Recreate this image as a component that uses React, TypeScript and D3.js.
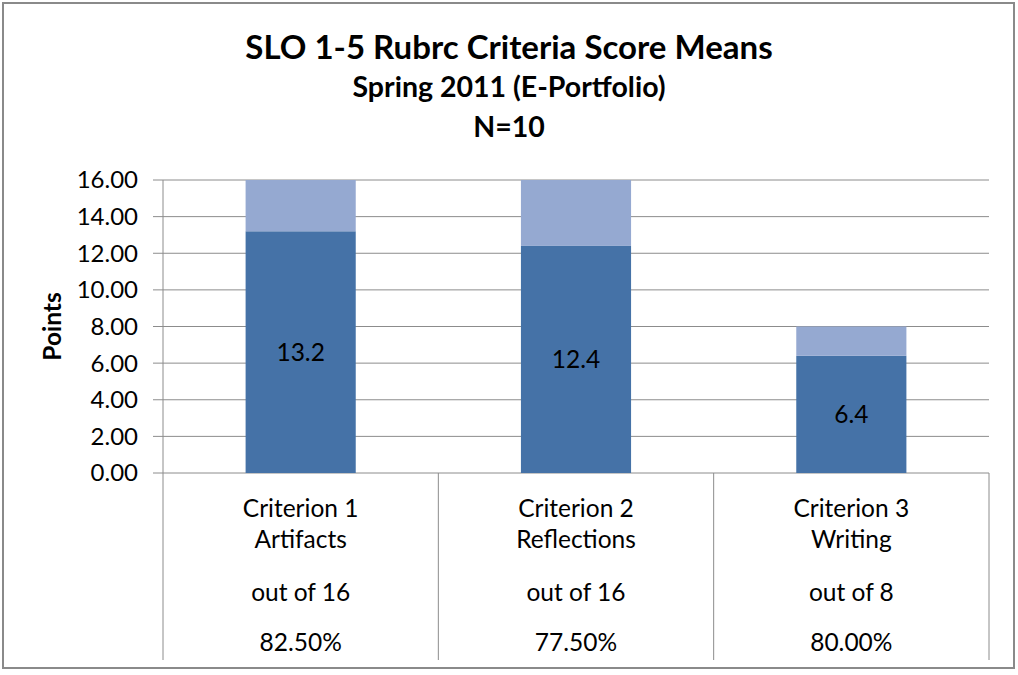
import { useEffect } from 'react'
import * as d3 from 'd3'

const criteria = ['Criterion 1', 'Criterion 2', 'Criterion 3']
const subNames = ['Artifacts', 'Reflections', 'Writing']
const outOf = ['out of 16', 'out of 16', 'out of 8']
const percents = ['82.50%', '77.50%', '80.00%']
const means = [13.2, 12.4, 6.4]
const maxima = [16, 16, 8]
const yTicks = [0, 2, 4, 6, 8, 10, 12, 14, 16]

const W = 1018
const H = 675
const FONT = 'Lato, "Open Sans", sans-serif'

const App = () => {
  useEffect(() => {
    document.body.style.margin = '0'
  }, [])

  const left = 163
  const right = 989
  const top = 180
  const bottom = 473
  const catBottom = 660

  const x = d3.scaleBand<string>().domain(criteria).range([left, right]).paddingInner(0).paddingOuter(0)
  const y = d3.scaleLinear().domain([0, 16]).range([bottom, top])
  const barW = x.bandwidth() * 0.4

  const stack = d3.stack<number>()
    .keys(['mean', 'rest'])
    .value((i, key) => (key === 'mean' ? means[i] : maxima[i] - means[i]))
  const series = stack(d3.range(criteria.length))
  const colors = ['#4572A7', '#95A9D1']
  const grid = '#8c8c8c'

  return (
    <svg width={W} height={H} style={{ display: 'block', background: '#fff' }} fontFamily={FONT}>
      <rect x={3} y={3} width={1011} height={665} fill="#fff" stroke="#8a8a8a" strokeWidth={2} />

      <text x={509} y={59} textAnchor="middle" fontSize={33} fontWeight="bold">SLO 1-5 Rubrc Criteria Score Means</text>
      <text x={509} y={97} textAnchor="middle" fontSize={28.5} fontWeight="bold">Spring 2011 (E-Portfolio)</text>
      <text x={509} y={137} textAnchor="middle" fontSize={28.5} fontWeight="bold">N=10</text>

      {yTicks.map((t) => (
        <g key={t}>
          <line x1={left - 10} x2={right} y1={y(t)} y2={y(t)} stroke={grid} strokeWidth={1} />
          <text x={138} y={y(t)} dy="0.35em" textAnchor="end" fontSize={24}>{t.toFixed(2)}</text>
        </g>
      ))}

      <text transform={`translate(61,${(top + bottom) / 2}) rotate(-90)`} textAnchor="middle" fontSize={24.5} fontWeight="bold">Points</text>

      {series.map((s, si) => (
        <g key={s.key}>
          {s.map((d, i) => (
            <rect
              key={i}
              x={(x(criteria[i]) ?? 0) + (x.bandwidth() - barW) / 2}
              y={y(d[1])}
              width={barW}
              height={y(d[0]) - y(d[1])}
              fill={colors[si]}
            />
          ))}
        </g>
      ))}

      {means.map((m, i) => (
        <text key={i} x={(x(criteria[i]) ?? 0) + x.bandwidth() / 2} y={y(m / 2)} dy="0.35em" textAnchor="middle" fontSize={24.5}>
          {m.toFixed(1)}
        </text>
      ))}

      {[...criteria.map((c) => x(c) ?? 0), right].map((v, i) => (
        <line key={i} x1={v} x2={v} y1={i === 0 ? top : bottom} y2={catBottom} stroke={grid} strokeWidth={1} />
      ))}

      {criteria.map((c, i) => {
        const cx = (x(c) ?? 0) + x.bandwidth() / 2
        return (
          <g key={c} fontSize={24.5} textAnchor="middle">
            <text x={cx} y={508} dy="0.35em">{c}</text>
            <text x={cx} y={539} dy="0.35em">{subNames[i]}</text>
            <text x={cx} y={592} dy="0.35em">{outOf[i]}</text>
            <text x={cx} y={642} dy="0.35em">{percents[i]}</text>
          </g>
        )
      })}
    </svg>
  )
}

export default App
